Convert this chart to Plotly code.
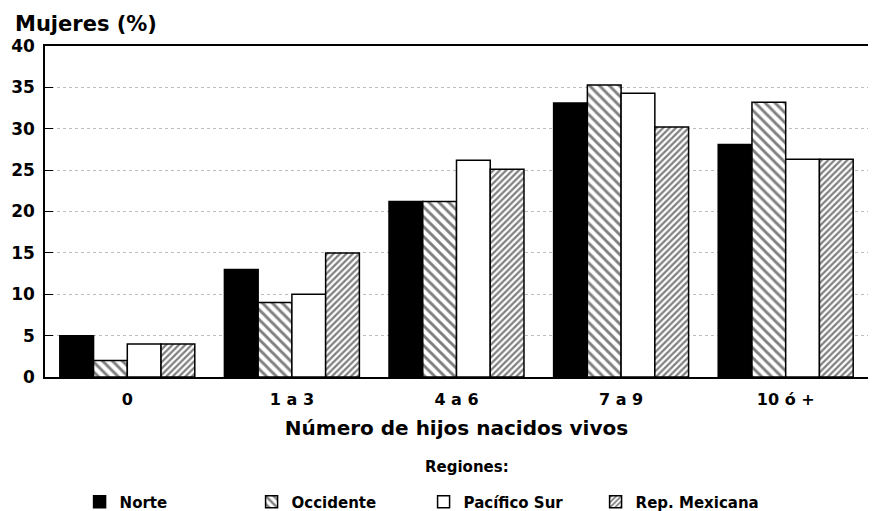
import plotly.graph_objects as go

categories = ["0", "1 a 3", "4 a 6", "7 a 9", "10 ó +"]
norte = [5, 13, 21.2, 33.1, 28.1]
occidente = [2, 9, 21.2, 35.3, 33.2]
pacifico = [4, 10, 26.2, 34.3, 26.3]
rep_mex = [4, 15, 25.1, 30.2, 26.3]
series_names = ["Norte", "Occidente", "Pacífico Sur", "Rep. Mexicana"]
y_ticks = [0, 5, 10, 15, 20, 25, 30, 35, 40]

FONT = "DejaVu Sans, Liberation Sans, Arial, sans-serif"
line = dict(color="black", width=1.5)

fig = go.Figure()
fig.add_bar(name=series_names[0], x=categories, y=norte,
            marker=dict(color="black", line=line))
fig.add_bar(name=series_names[1], x=categories, y=occidente,
            marker=dict(color="white", line=line,
                        pattern=dict(shape="\\", fgcolor="black", bgcolor="white",
                                     size=7, solidity=0.42)))
fig.add_bar(name=series_names[2], x=categories, y=pacifico,
            marker=dict(color="white", line=line))
fig.add_bar(name=series_names[3], x=categories, y=rep_mex,
            marker=dict(color="white", line=line,
                        pattern=dict(shape="/", fgcolor="black", bgcolor="white",
                                     size=4.5, solidity=0.5)))

# page body has an 8px margin, so the figure is sized to fit the window
fig.update_layout(
    width=873, height=503,
    margin=dict(l=37, r=13, t=38, b=134, autoexpand=False),
    paper_bgcolor="white", plot_bgcolor="white",
    barmode="group", bargap=0.18, bargroupgap=0,
    font=dict(family=FONT, color="black", size=14, weight="bold"),
    showlegend=True,
    legend=dict(orientation="h", x=0.46, xanchor="center", y=-0.378, yanchor="middle",
                font=dict(size=15, weight="bold"), entrywidth=127,
                itemwidth=30, tracegroupgap=0),
    annotations=[
        dict(text="Mujeres (%)", xref="paper", yref="paper",
             x=-0.039, y=1.024, xanchor="left", yanchor="bottom",
             showarrow=False, font=dict(size=21, family=FONT, weight="bold")),
        dict(text="Regiones:", xref="paper", yref="paper",
             x=0.513, y=-0.272, xanchor="center", yanchor="middle",
             showarrow=False, font=dict(size=15, family=FONT, weight="bold")),
    ],
)
fig.update_xaxes(
    showline=True, linecolor="black", linewidth=1.5, mirror=True,
    ticks="", showgrid=False, ticklabelstandoff=7,
    tickfont=dict(size=16, family=FONT, weight="bold"),
    title=dict(text="Número de hijos nacidos vivos",
               font=dict(size=20, family=FONT, weight="bold"), standoff=13),
)
fig.update_yaxes(
    range=[0, 40], tickvals=y_ticks,
    showline=True, linecolor="black", linewidth=1.5,
    ticks="inside", ticklen=8, tickcolor="black", ticklabelstandoff=5,
    showgrid=True, gridcolor="#bdbdbd", griddash="dot", gridwidth=1,
    tickfont=dict(size=17, family=FONT, weight="bold"), zeroline=False,
)

fig.write_html("out.html")
